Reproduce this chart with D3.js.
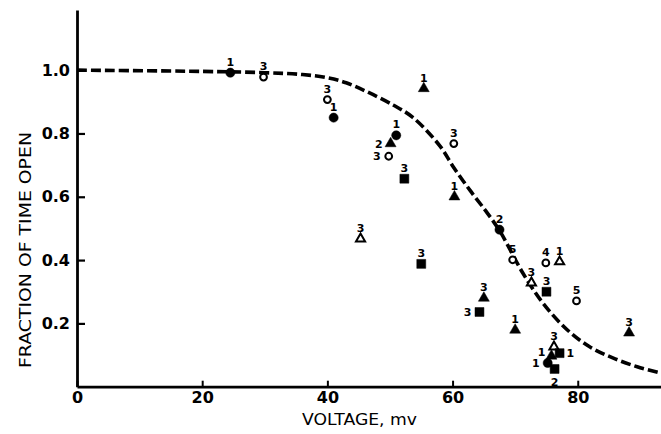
<!DOCTYPE html>
<html><head><meta charset="utf-8">
<script src="https://cdn.jsdelivr.net/npm/d3@7"></script>
<style>
html,body{margin:0;padding:0;background:#fff;}
svg{display:block;}
</style></head>
<body>
<svg id="chart" width="661" height="434"></svg>
<script>
// ---- data (voltage mV, fraction of time open, number label) ----
const filledCircles = [[24.5,0.992,"1"],[41,0.850,"1"],[51,0.794,"1"],[67.5,0.496,"2"],[75.2,0.075,"1"]];
const openCircles = [[29.8,0.978,"3"],[40,0.907,"3"],[49.8,0.728,"3"],[60.2,0.768,"3"],[69.6,0.401,"5"],[74.9,0.391,"4"],[79.8,0.271,"5"]];
const filledTriangles = [[50.1,0.768,"2"],[55.4,0.942,"1"],[60.3,0.600,"1"],[65,0.280,"3"],[70,0.179,"1"],[88.2,0.170,"3"],[75.8,0.097,"1"]];
const openTriangles = [[45.3,0.467,"3"],[72.6,0.328,"3"],[77.1,0.395,"1"],[76.2,0.126,"3"]];
const filledSquares = [[52.3,0.657,"3"],[55,0.388,"3"],[64.3,0.236,"3"],[75,0.300,"3"],[77.1,0.106,"1"],[76.3,0.056,"2"]];
// dashed curve
const curveV = [0,20,30,36,40,43,46.3,50.5,53.7,58,60.1,62.8,65.5,67.6,71.2,74.4,78.3,81.9,85.6,89.5,93.3];
const curveF = [1.0,0.996,0.992,0.986,0.976,0.96,0.932,0.89,0.85,0.76,0.695,0.62,0.55,0.49,0.36,0.265,0.18,0.126,0.091,0.063,0.043];
const xTicks = [0,20,40,60,80];
const yTicks = [0.2,0.4,0.6,0.8,1.0];
const yTickLabels = ["0.2","0.4","0.6","0.8","1.0"];
const xTitle = "VOLTAGE, mv";
const yTitle = "FRACTION OF TIME OPEN";
// label placement for each point (annotation layout)
const labelSide = {
  filledCircles: ["above","above","above","above","left"],
  openCircles: ["above","above","left","above","above","above","above"],
  filledTriangles: ["left","above","above","above","above","above","upleft"],
  openTriangles: ["above","above","above","above"],
  filledSquares: ["above","above","left","above","right","below"]
};

const svg = d3.select("#chart");
const x = d3.scaleLinear().domain([0, 93.3]).range([77, 661]);
const y = d3.scaleLinear().domain([0, 1.19]).range([386.7, 10]);

const tickFont = "'DejaVu Sans', sans-serif";

// y axis
const yAxis = svg.append("g").attr("transform", `translate(${x(0)},0)`)
  .call(d3.axisLeft(y).tickValues(yTicks).tickSize(-8).tickSizeOuter(0).tickPadding(7)
        .tickFormat((d,i)=>yTickLabels[i]));
yAxis.select(".domain").attr("stroke","#000").attr("stroke-width",2.8);
yAxis.selectAll(".tick line").attr("stroke","#000").attr("stroke-width",2.2);
yAxis.selectAll(".tick text").attr("font-family",tickFont).attr("font-weight","bold")
  .attr("font-size",16).attr("fill","#000");

// x axis
const xAxis = svg.append("g").attr("transform", `translate(0,${y(0)})`)
  .call(d3.axisBottom(x).tickValues(xTicks).tickSize(-6).tickSizeOuter(0).tickPadding(5));
xAxis.select(".domain").attr("stroke","#000").attr("stroke-width",2.8);
xAxis.selectAll(".tick line").attr("stroke","#000").attr("stroke-width",2);
xAxis.selectAll(".tick text").attr("font-family",tickFont).attr("font-weight","bold")
  .attr("font-size",16).attr("fill","#000");

// titles
svg.append("text").attr("x",302).attr("y",425)
  .attr("font-family",tickFont).attr("font-size",15).attr("fill","#000")
  .attr("textLength",115).attr("lengthAdjust","spacingAndGlyphs").text(xTitle);
svg.append("text").attr("transform","translate(31,368) rotate(-90)")
  .attr("font-family",tickFont).attr("font-size",15).attr("fill","#000")
  .attr("textLength",236).attr("lengthAdjust","spacingAndGlyphs").text(yTitle);

// dashed curve
const curvePts = curveV.map((v,i)=>[v,curveF[i]]);
svg.append("path").datum(curvePts)
  .attr("d", d3.line().x(d=>x(d[0])).y(d=>y(d[1])).curve(d3.curveCatmullRom.alpha(0.5)))
  .attr("fill","none").attr("stroke","#000").attr("stroke-width",3.6)
  .attr("stroke-dasharray","10,4");

// points
const seriesDefs = [
  {key:"filledCircles", data:filledCircles, sym:d3.symbolCircle, size:66, filled:true},
  {key:"openCircles", data:openCircles, sym:d3.symbolCircle, size:36, filled:false},
  {key:"filledTriangles", data:filledTriangles, sym:d3.symbolTriangle, size:52, filled:true},
  {key:"openTriangles", data:openTriangles, sym:d3.symbolTriangle, size:36, filled:false},
  {key:"filledSquares", data:filledSquares, sym:d3.symbolSquare, size:80, filled:true}
];
seriesDefs.forEach(s=>{
  const g = svg.append("g");
  g.selectAll("path").data(s.data).join("path")
    .attr("transform", d=>`translate(${x(d[0])},${y(d[1])})`)
    .attr("d", d3.symbol().type(s.sym).size(s.size))
    .attr("fill", s.filled ? "#000" : "#fff")
    .attr("stroke","#000").attr("stroke-width", s.filled ? 0.5 : 2);
  g.selectAll("text").data(s.data).join("text")
    .each(function(d,i){
      const side = labelSide[s.key][i];
      const px = x(d[0]), py = y(d[1]);
      const t = d3.select(this);
      if(side==="above"){ t.attr("x",px).attr("y",py-7).attr("text-anchor","middle"); }
      else if(side==="left"){ t.attr("x",px-8).attr("y",py+4).attr("text-anchor","end"); }
      else if(side==="upleft"){ t.attr("x",px-6).attr("y",py+0).attr("text-anchor","end"); }
      else if(side==="right"){ t.attr("x",px+7).attr("y",py+4).attr("text-anchor","start"); }
      else { t.attr("x",px).attr("y",py+17).attr("text-anchor","middle"); }
    })
    .attr("font-family",tickFont).attr("font-weight","bold").attr("font-size",11)
    .attr("fill","#000").text(d=>d[2]);
});
</script>
</body></html>
